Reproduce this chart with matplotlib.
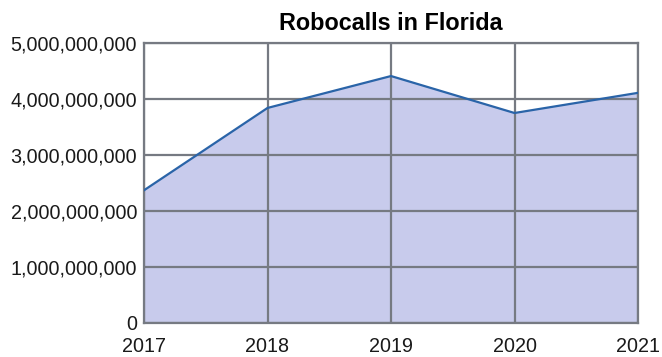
import matplotlib.pyplot as plt
from matplotlib.ticker import FuncFormatter

plt.rcParams['font.family'] = ['Liberation Sans', 'DejaVu Sans']

years = [2017, 2018, 2019, 2020, 2021]
calls = [2.37e9, 3.84e9, 4.41e9, 3.75e9, 4.11e9]
yticks = [0, 1e9, 2e9, 3e9, 4e9, 5e9]

fig = plt.figure(figsize=(6.62, 3.57), dpi=100)
ax = fig.add_axes([144 / 662, 1 - 323 / 357, 494 / 662, 280 / 357])

ax.fill_between(years, calls, 0, color='#c8cbec', zorder=1)
ax.plot(years, calls, color='#2a64a8', lw=1.6, zorder=3)

ax.set_xlim(2017, 2021)
ax.set_ylim(0, 5e9)
ax.set_xticks(years)
ax.set_yticks(yticks)
ax.yaxis.set_major_formatter(FuncFormatter(lambda v, p: f'{int(v):,}'))

ax.grid(True, color='#767a82', lw=1.6, zorder=2)
ax.set_axisbelow(False)
for s in ax.spines.values():
    s.set_color('#767a82')
    s.set_linewidth(1.6)
ax.tick_params(length=0, labelsize=14.2, colors='#1a1a1a')
ax.tick_params(axis='x', pad=10)
ax.tick_params(axis='y', pad=5)

ax.set_title('Robocalls in Florida', fontsize=16.8, fontweight='bold', pad=9)

fig.savefig('out.png', dpi=100)
